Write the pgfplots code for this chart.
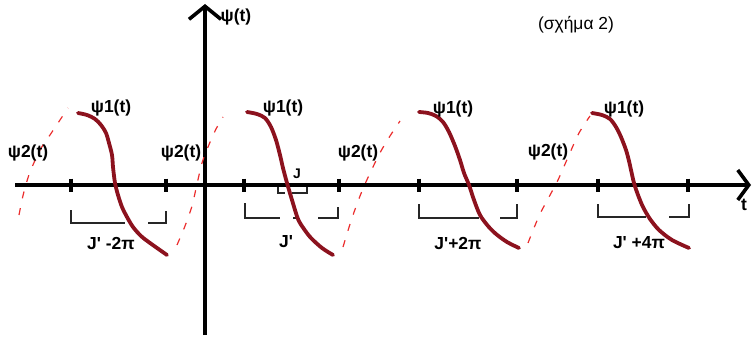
\documentclass[border=0pt]{standalone}
\usepackage{pgfplots}
\pgfplotsset{compat=1.18}
\usepackage{fontspec}
\setmainfont{Liberation Sans}
\usetikzlibrary{arrows.meta}
\definecolor{curvered}{RGB}{140,18,30}
\definecolor{dashred}{RGB}{235,45,45}
\tikzset{
    lab/.style={font=\bfseries\fontsize{17.5}{20}\selectfont, inner sep=0pt},
    psione/.style={curvered, line width=3.8bp, smooth, line cap=round},
    psitwo/.style={dashred, line width=1.2bp, smooth, dash pattern=on 7bp off 10bp},
    brack/.style={black!85, line width=1.2bp},
}
\newcommand{\Jp}{J\textquotesingle}
\begin{document}
\begin{tikzpicture}
\begin{axis}[
    width=756bp, height=341bp, scale only axis,
    xmin=0, xmax=756, ymin=0, ymax=341,
    y dir=reverse,
    hide axis, clip=false,
]
\path (axis cs:0,0) rectangle (axis cs:756,341);
% axes
\addplot[black, line width=3.6bp, -{Straight Barb[length=11bp,width=30bp]}]
    coordinates {(15,185) (751,185)};
\addplot[black, line width=3.6bp, -{Straight Barb[length=13bp,width=32bp]}]
    coordinates {(205,335) (205,4)};
% tick marks
\addplot[black, only marks, mark=|, mark size=6.5bp, mark options={line width=4bp}]
    coordinates {(71,185) (166,185) (244,185) (339,185) (419,185) (517,185) (598,185) (688,185)};
% psi2 (dashed)
\addplot[psitwo] coordinates {(19,215) (22,200) (25,188) (30,172) (40,150) (50,135) (58,123) (68,108)};
\addplot[psitwo] coordinates {(177,245) (185,226) (192,206) (197,184) (202,163) (208,147) (216,129) (223,117)};
\addplot[psitwo] coordinates {(343,247) (352,218) (362,191) (372,169) (381,151) (390,136) (400,121)};
\addplot[psitwo] coordinates {(528,243) (539,216) (549,197) (558,180) (569,155) (579,133) (590,116)};
% brackets
\addplot[brack] coordinates {(71,210) (71,223) (125,223)};
\addplot[brack] coordinates {(148,223) (166,223) (166,211)};
\addplot[brack] coordinates {(245,203) (245,218) (280,218)};
\addplot[brack] coordinates {(293,218) (297,218)};
\addplot[brack] coordinates {(318,218) (338,218) (338,207)};
\addplot[brack] coordinates {(419,204) (419,218) (479,218)};
\addplot[brack] coordinates {(500,218) (517,218) (517,204)};
\addplot[brack] coordinates {(598,204) (598,217) (646,217)};
\addplot[brack] coordinates {(669,217) (689,217) (689,204)};
\addplot[brack] coordinates {(278,187) (278,193) (285,193)};
\addplot[brack] coordinates {(292,193) (307,193) (307,187)};
% psi1 (solid)
\addplot[psione] coordinates {(78,113) (87,115) (95,119) (101,125) (106,133) (109,143) (112,155) (113,167) (115,183) (118,195) (122,207) (127,217) (133,227) (141,236) (150,243) (167,255)};
\addplot[psione] coordinates {(247,112) (257,114) (265,118) (271,127) (276,140) (280,155) (283,168) (287,183) (292,200) (298,219) (304,229) (311,238) (322,248) (333,255)};
\addplot[psione] coordinates {(419,112) (428,113) (436,116) (443,122) (449,132) (455,146) (460,160) (464,173) (469,185) (474,200) (480,215) (488,226) (496,234) (507,242) (519,248)};
\addplot[psione] coordinates {(592,113) (602,115) (610,119) (616,127) (621,137) (626,150) (629,161) (631,170) (634,183) (638,195) (643,207) (650,219) (659,230) (672,240) (689,248)};
% labels
\node[lab] at (axis cs:236,17) {ψ(t)};
\node[font=\fontsize{17.5}{20}\selectfont, inner sep=0pt] at (axis cs:576,25) {(σχήμα 2)};
\node[lab] at (axis cs:111,108) {ψ1(t)};
\node[lab] at (axis cs:283,108) {ψ1(t)};
\node[lab] at (axis cs:453,109) {ψ1(t)};
\node[lab] at (axis cs:624,109) {ψ1(t)};
\node[lab] at (axis cs:28,153) {ψ2(t)};
\node[lab] at (axis cs:181,153) {ψ2(t)};
\node[lab] at (axis cs:358,153) {ψ2(t)};
\node[lab] at (axis cs:548,152) {ψ2(t)};
\node[lab] at (axis cs:111,243) {\Jp{} -2π};
\node[lab] at (axis cs:286,242) {\Jp};
\node[lab] at (axis cs:458,243) {\Jp+2π};
\node[lab] at (axis cs:639,243) {\Jp{} +4π};
\node[lab] at (axis cs:744,205) {t};
\node[font=\bfseries\fontsize{14}{16}\selectfont, inner sep=0pt] at (axis cs:297,174) {J};
\end{axis}
\end{tikzpicture}
\end{document}
